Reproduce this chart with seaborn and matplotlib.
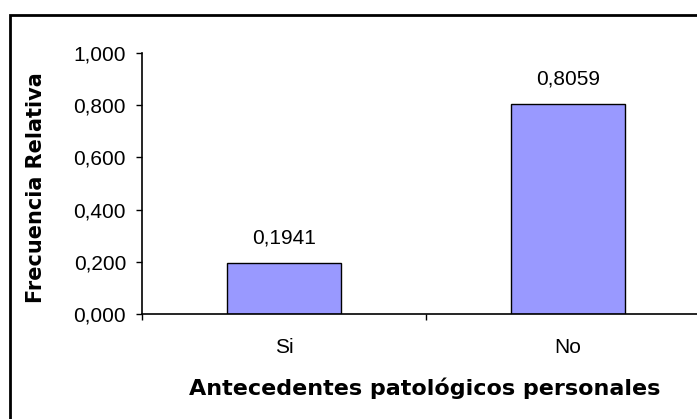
import matplotlib
matplotlib.use("Agg")
import matplotlib.pyplot as plt
import seaborn as sns
import pandas as pd
from matplotlib.patches import Rectangle
from matplotlib.ticker import FuncFormatter, FixedLocator

# datos
categorias = ["Si", "No"]
frecuencia = [0.1941, 0.8059]

df = pd.DataFrame({"cat": categorias, "frec": frecuencia})

sns.set_style("white")
plt.rcParams["font.family"] = ["Liberation Sans", "DejaVu Sans"]
plt.rcParams["text.color"] = "black"
plt.rcParams["xtick.color"] = "black"
plt.rcParams["ytick.color"] = "black"
plt.rcParams["axes.labelcolor"] = "black"

fig = plt.figure(figsize=(6.97, 4.19), dpi=100)

# marco exterior (recortado a la derecha y abajo)
fig.patches.append(Rectangle((10 / 697, -0.1), 1.2, 1 - 15 / 419 + 0.1,
                             transform=fig.transFigure, fill=False,
                             edgecolor="black", linewidth=2, zorder=0))

ax = fig.add_axes([142 / 697, 1 - 314 / 419, (710 - 142) / 697, (314 - 53) / 419])
ax.set_facecolor("none")
sns.barplot(data=df, x="cat", y="frec", order=categorias, color="#9999FF",
            saturation=1, width=0.4, edgecolor="black", linewidth=1, ax=ax)

ax.set_xlim(-0.5, 1.5)
ax.set_ylim(0, 1.0)
ax.set_yticks([0, 0.2, 0.4, 0.6, 0.8, 1.0])
ax.yaxis.set_major_formatter(FuncFormatter(lambda v, p: f"{v:.3f}".replace(".", ",")))
ax.tick_params(axis="y", direction="out", length=4.5, width=1, labelsize=15, pad=7, left=True)
ax.tick_params(axis="x", which="major", length=0, labelsize=15, pad=17)
ax.xaxis.set_minor_locator(FixedLocator([-0.5, 0.5, 1.5]))
ax.tick_params(axis="x", which="minor", direction="out", length=4.5, width=1, bottom=True)

for s in ["top", "right"]:
    ax.spines[s].set_visible(False)
for s in ["left", "bottom"]:
    ax.spines[s].set_color("black")
    ax.spines[s].set_linewidth(1.2)

for i, v in enumerate(frecuencia):
    ax.annotate(f"{v:.4f}".replace(".", ","), (i, v), xytext=(0, 18),
                textcoords="offset points", ha="center", va="center", fontsize=15)

ax.set_xlabel("Antecedentes patológicos personales", fontsize=16, fontweight="bold",
              family="DejaVu Sans")
ax.set_ylabel("Frecuencia Relativa", fontsize=15, fontweight="bold", family="DejaVu Sans")
ax.xaxis.set_label_coords((425 - 142) / (710 - 142), -(377 - 314) / (314 - 53))
ax.yaxis.set_label_coords(-(142 - 46) / (710 - 142), (314 - 187.5) / (314 - 53))

fig.savefig("out.png", dpi=100)
